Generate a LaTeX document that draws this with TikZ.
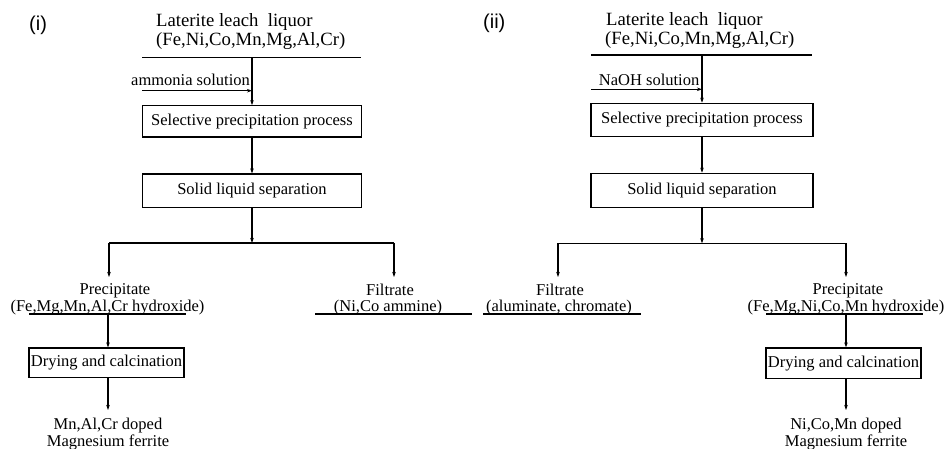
\documentclass[tikz,border=0pt]{standalone}
\usepackage{fontspec}
\setmainfont{Liberation Serif}
\newfontfamily\panelfont{Liberation Sans}
\usetikzlibrary{arrows.meta}
\begin{document}
\begin{tikzpicture}[x=1pt,y=-1pt,
  txt/.style={inner sep=0pt, font=\fontsize{16.5}{18}\selectfont},
  outtxt/.style={inner sep=0pt, align=center, font=\fontsize{16.5}{17.5}\selectfont},
  toptxt/.style={inner sep=0pt, font=\fontsize{18.7}{20}\selectfont},
  boxnode/.style={draw, line width=1.2pt, inner sep=0pt, font=\fontsize{16.5}{18}\selectfont},
  flow/.style={line width=1.2pt, -{Stealth[length=5pt,width=3.5pt]}},
  bar/.style={line width=1.2pt},
  panel/.style={inner sep=0pt, font=\panelfont\fontsize{20}{24}\selectfont}]
\useasboundingbox (0,0) rectangle (946,449);

% ---------------- panel (i) ----------------
\node[panel, anchor=base west] (lbl1) at (29,31) {(i)};
\node[toptxt, anchor=base west] (feed1a) at (156,27) {Laterite leach\ \ liquor};
\node[toptxt, anchor=base west] (feed1b) at (156,46) {(Fe,Ni,Co,Mn,Mg,Al,Cr)};
\coordinate (bar1L) at (142,57.5);
\coordinate (bar1R) at (361,57.5);
\coordinate (bar1M) at (252,57.5);
\draw[bar] (bar1L) -- (bar1R);

\node[txt, anchor=base west] (am1) at (131,86) {ammonia solution};
\coordinate (am1s) at (142,90.7);

\node[boxnode, minimum width=219pt, minimum height=31.3pt] (sel1) at (252,121.4) {Selective precipitation process};
\node[boxnode, minimum width=219pt, minimum height=33.7pt] (sep1) at (252,190.9) {Solid liquid separation};

\draw[flow] (bar1M) -- (sel1.north);
\draw[flow] (am1s) -- (am1s -| bar1M);
\draw[flow] (sel1.south) -- (sep1.north);

\coordinate (br1) at (252,243);
\coordinate (br1L) at (109,243);
\coordinate (br1R) at (394,243);
\coordinate (p1top) at (109,277);
\coordinate (f1top) at (394,277);
\draw[flow] (sep1.south) -- (br1);
\draw[bar] (br1L) -- (br1R);
\draw[flow] (br1L) -- (p1top);
\draw[flow] (br1R) -- (f1top);

\node[txt, anchor=base] (prec1a) at (115,295) {Precipitate};
\node[txt, anchor=base] (prec1b) at (107.5,311.5) {(Fe,Mg,Mn,Al,Cr hydroxide)};
\coordinate (u1L) at (29,314);
\coordinate (u1R) at (186,314);
\coordinate (u1M) at (108,314);
\draw[bar] (u1L) -- (u1R);

\node[boxnode, minimum width=155pt, minimum height=29.7pt] (dry1) at (106.5,362.9) {Drying and calcination};
\draw[flow] (u1M) -- (u1M |- dry1.north);
\coordinate (out1top) at (108,410);
\draw[flow] (u1M |- dry1.south) -- (out1top);
\node[outtxt, anchor=north] (out1) at (108,417.5) {Mn,Al,Cr doped\\Magnesium ferrite};

\node[txt, anchor=base] (filt1a) at (390,296) {Filtrate};
\node[txt, anchor=base] (filt1b) at (388,311.5) {(Ni,Co ammine)};
\coordinate (v1L) at (315,314);
\coordinate (v1R) at (472,314);
\draw[bar] (v1L) -- (v1R);

% ---------------- panel (ii) ----------------
\node[panel, anchor=base west] (lbl2) at (483,29) {(ii)};
\node[toptxt, anchor=base west] (feed2a) at (606,26) {Laterite leach\ \ liquor};
\node[toptxt, anchor=base west] (feed2b) at (605,45) {(Fe,Ni,Co,Mn,Mg,Al,Cr)};
\coordinate (bar2L) at (591,55);
\coordinate (bar2R) at (812,55);
\coordinate (bar2M) at (702,55);
\draw[bar] (bar2L) -- (bar2R);

\node[txt, anchor=base west] (na2) at (598.7,86) {NaOH solution};
\coordinate (na2s) at (591,89.3);

\node[boxnode, minimum width=222pt, minimum height=33.4pt] (sel2) at (702,120) {Selective precipitation process};
\node[boxnode, minimum width=222pt, minimum height=34pt] (sep2) at (702,190.3) {Solid liquid separation};

\draw[flow] (bar2M) -- (sel2.north);
\draw[flow] (na2s) -- (na2s -| bar2M);
\draw[flow] (sel2.south) -- (sep2.north);

\coordinate (br2) at (702,243.3);
\coordinate (br2L) at (558,243.3);
\coordinate (br2R) at (846,243.3);
\coordinate (f2top) at (558,277);
\coordinate (p2top) at (846,277);
\draw[flow] (sep2.south) -- (br2);
\draw[bar] (br2L) -- (br2R);
\draw[flow] (br2L) -- (f2top);
\draw[flow] (br2R) -- (p2top);

\node[txt, anchor=base] (filt2a) at (560,296) {Filtrate};
\node[txt, anchor=base] (filt2b) at (559,311.5) {(aluminate, chromate)};
\coordinate (v2L) at (483,314);
\coordinate (v2R) at (641,314);
\draw[bar] (v2L) -- (v2R);

\node[txt, anchor=base] (prec2a) at (848,294.5) {Precipitate};
\node[txt, anchor=base] (prec2b) at (846,311.5) {(Fe,Mg,Ni,Co,Mn hydroxide)};
\coordinate (u2L) at (766,314);
\coordinate (u2R) at (923,314);
\coordinate (u2M) at (846,314);
\draw[bar] (u2L) -- (u2R);

\node[boxnode, minimum width=155pt, minimum height=30.7pt] (dry2) at (843.5,363.3) {Drying and calcination};
\draw[flow] (u2M) -- (u2M |- dry2.north);
\coordinate (out2top) at (846,410);
\draw[flow] (u2M |- dry2.south) -- (out2top);
\node[outtxt, anchor=north] (out2) at (846,417.5) {Ni,Co,Mn doped\\Magnesium ferrite};
\end{tikzpicture}
\end{document}
